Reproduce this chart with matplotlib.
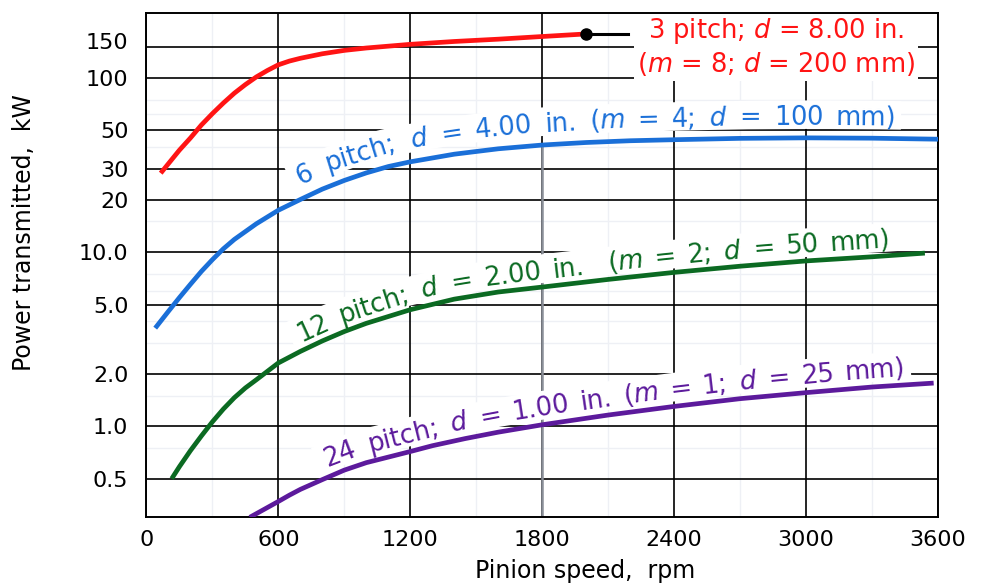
import numpy as np
import matplotlib
matplotlib.use('Agg')
import matplotlib.pyplot as plt
from matplotlib.ticker import NullLocator
from matplotlib.transforms import ScaledTranslation

plt.rcParams['font.family'] = ['DejaVu Sans']
plt.rcParams['mathtext.fontset'] = 'custom'
plt.rcParams['mathtext.rm'] = 'DejaVu Sans'
plt.rcParams['mathtext.it'] = 'DejaVu Sans:italic'

# 3 pitch, d = 8.00 in.
rpm_3 = [65, 100, 150, 200, 250, 300, 350, 400, 450, 500, 550, 600, 650, 700, 800, 900,
         1000, 1200, 1400, 1600, 1800, 2000]
kw_3 = [28.4, 32.2, 38.5, 45.2, 53.7, 62.4, 71.8, 81.8, 91.6, 101.4, 110.4, 119, 125, 129.7,
        137.7, 144, 148.6, 156, 162, 167, 173, 179]
# 6 pitch, d = 4.00 in.
rpm_6 = [40, 100, 150, 200, 250, 300, 350, 400, 500, 600, 700, 800, 900, 1000, 1100, 1200,
         1400, 1600, 1800, 2000, 2200, 2400, 2700, 3000, 3300, 3600]
kw_6 = [3.66, 4.57, 5.48, 6.53, 7.75, 9.05, 10.45, 11.83, 14.55, 17.4, 20.05, 23.0, 25.8,
        28.5, 31.0, 33.0, 36.5, 39.2, 41.2, 42.6, 43.6, 44.2, 45.0, 45.3, 45.1, 44.5]
# 12 pitch, d = 2.00 in.
rpm_12 = [115, 150, 200, 250, 300, 350, 400, 450, 500, 600, 700, 800, 900, 1000, 1200, 1400,
          1600, 1800, 2100, 2400, 2700, 3000, 3300, 3540]
kw_12 = [0.50, 0.586, 0.724, 0.88, 1.06, 1.256, 1.46, 1.66, 1.85, 2.31, 2.69, 3.09, 3.5, 3.9,
         4.67, 5.37, 5.9, 6.3, 6.97, 7.65, 8.3, 8.9, 9.4, 9.87]
# 24 pitch, d = 1.00 in.
rpm_24 = [470, 600, 650, 700, 800, 900, 1000, 1200, 1300, 1450, 1600, 1800, 2100, 2400, 2700,
          3000, 3300, 3580]
kw_24 = [0.30, 0.37, 0.402, 0.434, 0.494, 0.56, 0.618, 0.716, 0.773, 0.85, 0.925, 1.02, 1.16,
         1.30, 1.44, 1.56, 1.68, 1.77]

x_ticks = [0, 600, 1200, 1800, 2400, 3000, 3600]
y_ticks = [0.5, 1, 2, 5, 10, 20, 30, 50, 100, 150]
y_tick_labels = ['0.5', '1.0', '2.0', '5.0', '10.0', '20', '30', '50', '100', '150']
faint_x = [300, 900, 1500, 2100, 2700, 3300]
faint_y = [0.75, 1.5, 3, 4, 6, 7.5, 15, 40, 62, 75]

label_3 = '3 pitch; $d$ = 8.00 in.\n($m$ = 8; $d$ = 200 mm)'
label_6 = r'6 pitch; $d$ = 4.00 in. ($m$ = 4; $d$ = $\mathit{100}$ mm)'
label_12 = '12 pitch; $d$ = 2.00 in.  ($m$ = 2; $d$ = 50 mm)'
label_24 = '24 pitch; $d$ = 1.00 in. ($m$ = 1; $d$ = 25 mm)'

red, blue, green, purple = '#ff1414', '#1a6fd8', '#0b6a22', '#5c1a9c'

fig = plt.figure(figsize=(9.84, 5.88), dpi=100)
ax = fig.add_axes([0.1488, 0.1202, 0.8045, 0.8582])
ax.set_yscale('log')
ax.set_xlim(0, 3600)
ax.set_ylim(0.3, 237)
ax.set_xticks(x_ticks)
ax.set_yticks(y_ticks, y_tick_labels)
ax.yaxis.set_minor_locator(NullLocator())
ax.tick_params(length=0, labelsize=16)
ax.tick_params(axis='x', pad=9)
ax.tick_params(axis='y', pad=13)
ax.set_axisbelow(True)
ax.grid(True, color='black', lw=1.2)
for v in faint_x:
    ax.axvline(v, color='#eef0f5', lw=1, zorder=0.3)
for v in faint_y:
    ax.axhline(v, color='#eef0f5', lw=1, zorder=0.3)
for sp in ax.spines.values():
    sp.set_linewidth(1.4)

# lift the top tick label a bit like the original
lab = ax.get_yticklabels()[-1]
lab.set_transform(lab.get_transform() + ScaledTranslation(0, 4.5 / 72, fig.dpi_scale_trans))

ax.set_xlabel('Pinion speed,  rpm', fontsize=17)
ax.xaxis.set_label_coords(0.554, -0.083)
ax.set_ylabel('Power transmitted,  kW', fontsize=17)
ax.yaxis.set_label_coords(-0.14, 0.565)

# 1800 rpm marker line up to the 6 pitch curve
i18 = rpm_6.index(1800)
ax.plot([1800, 1800], [0.3, kw_6[i18]], color='#8a8f98', lw=1.8, zorder=1.5)

for xs, ys, c in [(rpm_3, kw_3, red), (rpm_6, kw_6, blue), (rpm_12, kw_12, green),
                  (rpm_24, kw_24, purple)]:
    ax.plot(xs, ys, color=c, lw=3.4, zorder=3, solid_capstyle='butt', solid_joinstyle='round')

# end dot of the 3 pitch curve with a short leader to its label
ax.plot([rpm_3[-1], 2190], [kw_3[-1], kw_3[-1]], color='black', lw=2.2, zorder=3)
ax.plot(rpm_3[-1], kw_3[-1], 'o', color='black', ms=8, zorder=4)
ax.text(2862, 151, label_3, color=red, fontsize=18.5, ha='center', va='center',
        multialignment='center', zorder=2.2,
        bbox=dict(fc='white', ec='none', pad=2))

renderer = fig.canvas.get_renderer()


def curve_label(text, xs, ys, start, end, lift, color, size=18.5):
    # words set one by one along the curve, spread between start and end
    pts = ax.transData.transform(np.column_stack([xs, ys]))
    arc = np.concatenate([[0], np.cumsum(np.hypot(*np.diff(pts, axis=0).T))])
    a0 = np.interp(start, xs, arc)
    a1 = np.interp(end, xs, arc)

    def at(s):
        return np.array([np.interp(s, arc, pts[:, 0]), np.interp(s, arc, pts[:, 1])])

    def normal(s, half=12):
        d = at(s + half) - at(s - half)
        d /= np.hypot(*d)
        return np.array([-d[1], d[0]])

    # white band under the words, hiding the grid like the original
    spx = size * fig.dpi / 72
    lo, hi = lift - 4, lift + 0.76 * spx + 5
    band = np.array([at(s) + (lo + hi) / 2 * normal(s) for s in np.arange(a0 - 7, a1 + 7, 3)])
    band = ax.transData.inverted().transform(band)
    ax.plot(band[:, 0], band[:, 1], color='white', lw=(hi - lo) * 72 / fig.dpi,
            solid_capstyle='butt', zorder=2.05)

    items = []
    for word in text.split(' '):
        if word:
            t = ax.text(0, 0, word, fontsize=size, color=color, ha='center', va='baseline',
                        rotation_mode='anchor', zorder=2.2)
            w = t.get_window_extent(renderer).width
        else:
            t, w = None, 0.0
        items.append((t, w))
    gap = (a1 - a0 - sum(w for _, w in items)) / (len(items) - 1)
    s = a0
    for t, w in items:
        if t is not None:
            xa, ya = at(s)
            xb, yb = at(s + w)
            ang = np.arctan2(yb - ya, xb - xa)
            pos = at(s + w / 2) + lift * np.array([-np.sin(ang), np.cos(ang)])
            t.set_position(ax.transData.inverted().transform(pos))
            t.set_rotation(np.degrees(ang))
        s += w + gap


curve_label(label_6, rpm_6, kw_6, 726, 3408, 13, blue)
curve_label(label_12, rpm_12, kw_12, 717, 3389, 8, green)
curve_label(label_24, rpm_24, kw_24, 838, 3457, 9, purple)

fig.savefig('out.png', dpi=100)
